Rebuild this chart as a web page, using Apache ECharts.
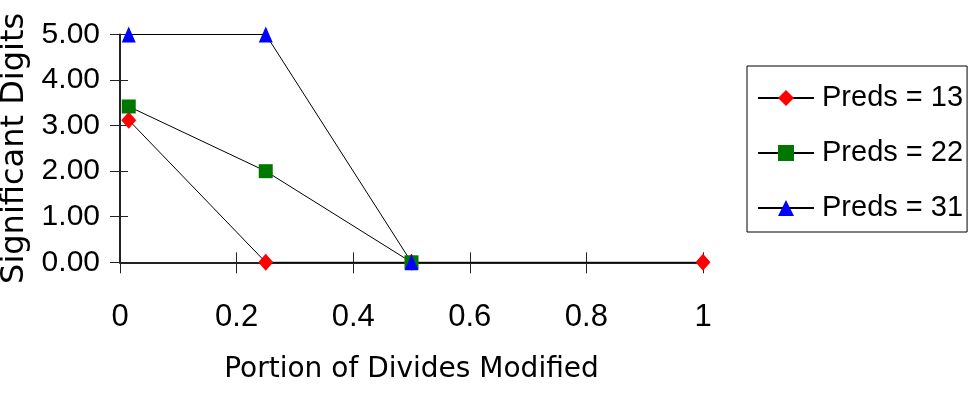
<!DOCTYPE html>
<html>
<head>
<meta charset="utf-8">
<script src="https://cdn.jsdelivr.net/npm/echarts@6/dist/echarts.min.js"></script>
<style>
html,body{margin:0;padding:0;background:#fff;}
#chart{width:968px;height:407px;}
</style>
</head>
<body>
<div id="chart"></div>
<script>
// Data
var seriesNames = ['Preds = 13', 'Preds = 22', 'Preds = 31'];
var preds13 = [[0.015, 3.12], [0.25, 0], [0.5, 0], [1, 0]];
var preds22 = [[0.015, 3.42], [0.25, 2.0], [0.5, 0]];
var preds31 = [[0.015, 5.0], [0.25, 5.0], [0.5, 0]];
var xTicks = [0, 0.2, 0.4, 0.6, 0.8, 1];
var yTicks = [0, 1, 2, 3, 4, 5];
var xTitle = 'Portion of Divides Modified';
var yTitle = 'Significant Digits';

var chart = echarts.init(document.getElementById('chart'), null, {renderer: 'canvas'});
var axisCol = '#222';
var tickFont = 'Liberation Sans, Arial, sans-serif';
var titleFont = 'DejaVu Sans, Verdana, sans-serif';

function mkSeries(name, data, symbol, size, color) {
  return {
    name: name, type: 'line', data: data,
    xAxisIndex: 0, yAxisIndex: 0,
    symbol: symbol, symbolSize: size, clip: false,
    showAllSymbol: true,
    lineStyle: {color: '#000', width: 1},
    itemStyle: {color: color, borderWidth: 0},
    emphasis: {disabled: true},
    animation: false, z: 3
  };
}

var option = {
  animation: false,
  backgroundColor: '#fff',
  grid: {left: 120, right: 265, top: 34.5, bottom: 144.7, containLabel: false, outerBoundsMode: 'none'},
  legend: {
    orient: 'vertical', left: 747, top: 66,
    padding: [17, 4, 9, 10],
    borderColor: '#000', borderWidth: 1,
    itemWidth: 56, itemHeight: 20, itemGap: 25,
    data: seriesNames,
    textStyle: {fontFamily: tickFont, fontSize: 29, color: '#000', lineHeight: 30, padding: [0, 0, 0, 3]}
  },
  xAxis: [{
    type: 'value', min: 0, max: 1, interval: 0.2, position: 'bottom',
    name: xTitle, nameLocation: 'middle', nameGap: 93,
    nameTextStyle: {fontFamily: titleFont, fontSize: 28, color: '#000'},
    axisLine: {show: true, lineStyle: {color: axisCol, width: 2}},
    axisTick: {show: true, inside: false, length: 11, lineStyle: {color: axisCol, width: 1}},
    axisLabel: {fontFamily: tickFont, fontSize: 31, color: '#000', margin: 40,
      formatter: function (v) { return xTicks.indexOf(Math.round(v * 10) / 10) >= 0 ? String(Math.round(v * 10) / 10) : ''; }},
    splitLine: {show: false}
  }, {
    type: 'value', min: 0, max: 1, interval: 0.2, position: 'bottom', offset: 0,
    axisLine: {show: false},
    axisTick: {show: true, inside: true, length: 10, lineStyle: {color: axisCol, width: 1}},
    axisLabel: {show: false}, splitLine: {show: false}
  }],
  yAxis: [{
    type: 'value', min: 0, max: 5, interval: 1, position: 'left',
    name: yTitle, nameLocation: 'middle', nameGap: 86,
    nameTextStyle: {fontFamily: titleFont, fontSize: 32, color: '#000'},
    axisLine: {show: true, lineStyle: {color: axisCol, width: 2}},
    axisTick: {show: true, inside: false, length: 10, lineStyle: {color: axisCol, width: 1}},
    axisLabel: {fontFamily: tickFont, fontSize: 30, color: '#000', margin: 20,
      formatter: function (v) { return yTicks.indexOf(Math.round(v)) >= 0 ? v.toFixed(2) : ''; }},
    splitLine: {show: false}
  }, {
    type: 'value', min: 0, max: 5, interval: 1, position: 'left', offset: 0,
    axisLine: {show: false},
    axisTick: {show: true, inside: true, length: 8, lineStyle: {color: axisCol, width: 1}},
    axisLabel: {show: false}, splitLine: {show: false}
  }],
  series: [
    mkSeries(seriesNames[0], preds13, 'diamond', [15, 17], '#ff0000'),
    mkSeries(seriesNames[1], preds22, 'rect', [14, 14], '#007800'),
    mkSeries(seriesNames[2], preds31, 'triangle', [14, 16], '#0000ff')
  ]
};
chart.setOption(option);
</script>
</body>
</html>
